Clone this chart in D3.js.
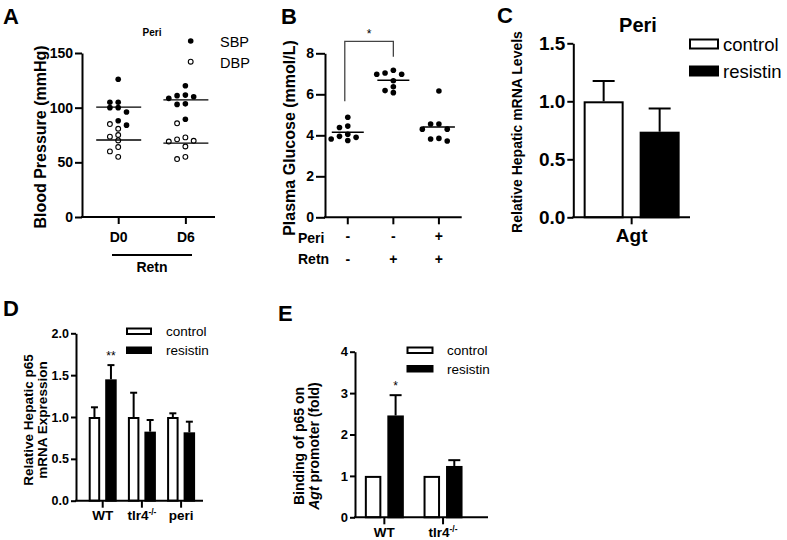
<!DOCTYPE html>
<html><head><meta charset="utf-8">
<script src="https://cdn.jsdelivr.net/npm/d3@7"></script>
<style>body{margin:0;background:#fff} svg{display:block} text{font-family:'Liberation Sans',Arial,sans-serif}</style>
</head><body><svg id="c" width="787" height="540"></svg>
<script>
// ---------- Panel A ----------
const aGroups = ["D0", "D6"];
const aSBP = [[126, 105, 105, 100, 100, 96, 88, 84], [120, 111.5, 111, 110, 108.5, 103.5, 103, 89.4]];
const aDBP = [[85, 80.7, 75, 73.5, 70, 64, 60, 55], [85.7, 72.8, 71, 69.7, 69, 64.5, 55, 53]];
const aTicks = [0, 50, 100, 150];
const aSeries = ["SBP", "DBP"];
// ---------- Panel B ----------
const bGroups = ["g1", "g2", "g3"];
const bPeri = ["-", "-", "+"];
const bRetn = ["-", "+", "+"];
const bValues = [[4.88, 4.45, 4.38, 4.05, 3.95, 3.9, 3.82, 3.75],
                 [7.17, 7.04, 6.98, 6.98, 6.66, 6.37, 6.18, 6.08],
                 [6.16, 4.55, 4.55, 4.3, 4.3, 3.85, 3.82, 3.72]];
const bTicks = [0, 2, 4, 6, 8];
// ---------- Panel C ----------
const cGroups = ["Agt"];
const cControl = [1.0], cControlErr = [0.175];
const cResistin = [0.738], cResistinErr = [0.2];
const cTicks = [0, 0.5, 1.0, 1.5];
// ---------- Panel D ----------
const dGroups = ["WT", "tlr4", "peri"];
const dControl = [1.0, 1.0, 1.0], dControlErr = [0.116, 0.29, 0.044];
const dResistin = [1.45, 0.825, 0.817], dResistinErr = [0.17, 0.139, 0.127];
const dTicks = [0, 0.5, 1.0, 1.5, 2.0];
// ---------- Panel E ----------
const eGroups = ["WT", "tlr4"];
const eControl = [1, 1], eControlErr = [0, 0];
const eResistin = [2.46, 1.24], eResistinErr = [0.49, 0.14];
const eTicks = [0, 1, 2, 3, 4];
const seriesNames = ["control", "resistin"];

const svg = d3.select("#c");

function txt(g, x, y, s, opt = {}) {
  return g.append("text").attr("x", x).attr("y", y).text(s)
    .attr("font-size", opt.size || 13).attr("font-weight", opt.bold ? "bold" : "normal")
    .attr("text-anchor", opt.anchor || "start").attr("fill", "#000");
}
function rotTxt(g, x, y, s, size) {
  return g.append("text").attr("transform", `translate(${x},${y}) rotate(-90)`)
    .attr("text-anchor", "middle").attr("font-size", size).attr("font-weight", "bold").text(s);
}
function yAxis(g, y, x, ticks, fmt, size, len) {
  const ax = g.append("g").attr("transform", `translate(${x},0)`)
    .call(d3.axisLeft(y).tickValues(ticks).tickFormat(fmt).tickSize(len).tickSizeOuter(0).tickPadding(2));
  ax.select(".domain").attr("stroke-width", 2).attr("stroke", "#000");
  ax.selectAll(".tick line").attr("stroke-width", 2).attr("stroke", "#000");
  ax.selectAll(".tick text").attr("font-size", size).attr("font-weight", "bold").attr("fill", "#000")
    .attr("font-family", "'Liberation Sans',Arial,sans-serif");
  return ax;
}
function xAxis(g, x, y0, x0, x1, len, labels, size, dy) {
  const ax = g.append("g").attr("transform", `translate(0,${y0})`)
    .call(d3.axisBottom(x).tickSize(len).tickSizeOuter(0).tickPadding(dy).tickFormat(labels ? (d => d) : ""));
  ax.select(".domain").remove();
  ax.selectAll(".tick line").attr("stroke-width", 2).attr("stroke", "#000");
  ax.selectAll(".tick text").attr("font-size", size).attr("font-weight", "bold").attr("fill", "#000")
    .attr("font-family", "'Liberation Sans',Arial,sans-serif");
  g.append("line").attr("x1", x0 - 1).attr("x2", x1).attr("y1", y0).attr("y2", y0)
    .attr("stroke", "#000").attr("stroke-width", 2);
  return ax;
}
function swarm(items, cx, y, spacing, thr) {
  const placed = [];
  items.slice().sort((a, b) => b.v - a.v).forEach(it => {
    const py = y(it.v);
    for (const k of [0, -1, 1, -2, 2, -3, 3]) {
      const px = cx + k * spacing;
      if (placed.every(p => Math.hypot(p.x - px, p.y - py) >= thr)) {
        placed.push({ ...it, x: px, y: py }); break;
      }
    }
  });
  return placed;
}
function drawDots(g, pts) {
  g.selectAll(null).data(pts).join("circle")
    .attr("cx", d => d.x).attr("cy", d => d.y)
    .attr("r", d => d.filled ? 2.8 : 2.4)
    .attr("fill", d => d.filled ? "#000" : "#fff")
    .attr("stroke", "#000").attr("stroke-width", d => d.filled ? 0 : 1.1);
}

// ================= Panel A =================
{
  const g = svg.append("g");
  txt(g, 3, 24, "A", { size: 22, bold: true });
  const y = d3.scaleLinear().domain([0, 150]).range([217, 53]);
  const x = d3.scalePoint().domain(aGroups).range([82, 215]).padding(0.49).align(0.55);
  yAxis(g, y, 82, aTicks, d3.format("d"), 14, 7);
  xAxis(g, x, 217, 82, 215, 7, true, 14, 8);
  rotTxt(g, 46, 137, "Blood Pressure (mmHg)", 16);
  aGroups.forEach((grp, i) => {
    const items = aSBP[i].map(v => ({ v, filled: true })).concat(aDBP[i].map(v => ({ v, filled: false })));
    const cx = x(grp);
    const pts = swarm(items, cx, y, 8.3, 5.2);
    drawDots(g, pts);
    [d3.mean(aSBP[i]), d3.mean(aDBP[i])].forEach(m => {
      g.append("line").attr("x1", cx - 22).attr("x2", cx + 23).attr("y1", y(m)).attr("y2", y(m))
        .attr("stroke", "#000").attr("stroke-width", 1.4);
    });
  });
  txt(g, 152, 36, "Peri", { size: 10, bold: true, anchor: "middle" });
  // legend
  aSeries.forEach((s, i) => {
    const ly = 41 + i * 20.7;
    g.append("circle").attr("cx", 190.7).attr("cy", ly).attr("r", i === 0 ? 2.8 : 2.4)
      .attr("fill", i === 0 ? "#000" : "#fff").attr("stroke", "#000").attr("stroke-width", i === 0 ? 0 : 1.1);
    txt(g, 220, ly + 6, s, { size: 14.5 });
  });
  g.append("line").attr("x1", 112).attr("x2", 192).attr("y1", 255).attr("y2", 255)
    .attr("stroke", "#000").attr("stroke-width", 2);
  txt(g, 152, 272, "Retn", { size: 14, bold: true, anchor: "middle" });
}

// ================= Panel B =================
{
  const g = svg.append("g");
  txt(g, 281, 24, "B", { size: 22, bold: true });
  const y = d3.scaleLinear().domain([0, 8]).range([217.3, 53.3]);
  const x = d3.scaleBand().domain(bGroups).range([325, 461.7]).padding(0);
  yAxis(g, y, 325, bTicks, d3.format("d"), 14, 9);
  xAxis(g, x, 217.3, 325, 461.7, 7, false, 14, 6);
  rotTxt(g, 295, 138, "Plasma Glucose (mmol/L)", 16);
  bGroups.forEach((grp, i) => {
    const cx = x(grp) + x.bandwidth() / 2;
    const pts = swarm(bValues[i].map(v => ({ v, filled: true })), cx, y, 8.3, 5.2);
    drawDots(g, pts);
    const m = d3.mean(bValues[i]);
    g.append("line").attr("x1", cx - 16).attr("x2", cx + 16).attr("y1", y(m)).attr("y2", y(m))
      .attr("stroke", "#000").attr("stroke-width", 1.4);
    txt(g, cx, 241, bPeri[i], { size: 14, bold: true, anchor: "middle" });
    txt(g, cx, 264, bRetn[i], { size: 14, bold: true, anchor: "middle" });
  });
  txt(g, 298, 243, "Peri", { size: 14, bold: true });
  txt(g, 298, 264, "Retn", { size: 14, bold: true });
  // significance bracket
  const c1 = x("g1") + x.bandwidth() / 2 - 3, c2 = x("g2") + x.bandwidth() / 2;
  g.append("path").attr("d", `M${c1},${y(d3.max(bValues[0])) - 16}V41.3H${c2}V56.7`)
    .attr("fill", "none").attr("stroke", "#444").attr("stroke-width", 1.3);
  txt(g, (c1 + c2) / 2, 38, "*", { size: 12, anchor: "middle" });
}

// ---------- generic bar panel ----------
function barPanel(g, cfg) {
  const y = d3.scaleLinear().domain([0, cfg.max]).range([cfg.y0, cfg.y1]);
  const x = d3.scaleBand().domain(cfg.groups).range([cfg.x0, cfg.x1])
    .paddingInner(0).paddingOuter(cfg.po).align(cfg.align);
  const series = [[cfg.ctrl, cfg.ctrlErr], [cfg.res, cfg.resErr]];
  cfg.groups.forEach((grp, i) => {
    const cx = x(grp) + x.bandwidth() / 2;
    series.forEach(([vals, errs], s) => {
      const bx = s === 0 ? cx - cfg.gap / 2 - cfg.barW : cx + cfg.gap / 2;
      const bc = bx + cfg.barW / 2;
      if (errs[i] > 0) {
        g.append("line").attr("x1", bc).attr("x2", bc).attr("y1", y(vals[i])).attr("y2", y(vals[i] + errs[i]))
          .attr("stroke", "#000").attr("stroke-width", 2);
        g.append("line").attr("x1", bc - cfg.cap / 2).attr("x2", bc + cfg.cap / 2)
          .attr("y1", y(vals[i] + errs[i])).attr("y2", y(vals[i] + errs[i]))
          .attr("stroke", "#000").attr("stroke-width", 2);
      }
      g.append("rect").attr("x", bx + 1).attr("width", cfg.barW - 2)
        .attr("y", y(vals[i]) + 1).attr("height", y(0) - y(vals[i]) - 1)
        .attr("fill", s === 0 ? "#fff" : "#000").attr("stroke", "#000").attr("stroke-width", 2);
    });
  });
  yAxis(g, y, cfg.x0, cfg.ticks, cfg.fmt, cfg.tickSize, cfg.tickLen);
  const ax = xAxis(g, x, cfg.y0, cfg.x0, cfg.x1, 7, true, cfg.xSize, cfg.xPad);
  // legend
  seriesNames.forEach((s, k) => {
    const ly = cfg.legY[k];
    g.append("rect").attr("x", cfg.legX + 1).attr("y", ly + 1).attr("width", cfg.legW - 2).attr("height", cfg.legH - 2)
      .attr("fill", k === 0 ? "#fff" : "#000").attr("stroke", "#000").attr("stroke-width", 2);
    txt(g, cfg.legTX, ly + cfg.legH / 2 + cfg.legSize * 0.36, s, { size: cfg.legSize });
  });
  return { x, y, ax };
}

// ================= Panel C =================
{
  const g = svg.append("g");
  txt(g, 497, 23, "C", { size: 22, bold: true });
  const r = barPanel(g, {
    groups: cGroups, ctrl: cControl, ctrlErr: cControlErr, res: cResistin, resErr: cResistinErr,
    max: 1.5, y0: 217.3, y1: 43.3, x0: 573.3, x1: 690, po: 0, align: 0.5, barW: 40, gap: 16, cap: 22,
    ticks: cTicks, fmt: d3.format(".1f"), tickSize: 19, tickLen: 6, xSize: 19, xPad: 4,
    legX: 689, legY: [38.5, 65.5], legW: 30, legH: 11, legTX: 723, legSize: 18.5
  });
  txt(g, 638, 32, "Peri", { size: 20, bold: true, anchor: "middle" });
  rotTxt(g, 522, 132, "Relative Hepatic mRNA Levels", 14);
}

// ================= Panel D =================
{
  const g = svg.append("g");
  txt(g, 3, 316, "D", { size: 22, bold: true });
  const r = barPanel(g, {
    groups: dGroups, ctrl: dControl, ctrlErr: dControlErr, res: dResistin, resErr: dResistinErr,
    max: 2.0, y0: 500.7, y1: 333.3, x0: 76, x1: 203, po: 0.12, align: 0.755, barW: 11.5, gap: 5, cap: 7,
    ticks: dTicks, fmt: d3.format(".1f"), tickSize: 12.5, tickLen: 5, xSize: 13.5, xPad: 3,
    legX: 126, legY: [327.5, 346.5], legW: 26, legH: 7.5, legTX: 166, legSize: 13.5
  });
  r.ax.selectAll(".tick text").filter(d => d === "tlr4").text("tlr4")
    .append("tspan").attr("dy", -5).attr("font-size", 8.5).text("-/-");
  const wt = r.x("WT") + r.x.bandwidth() / 2 + 2.5 + 11.5 / 2;
  txt(g, wt, r.y(dResistin[0] + dResistinErr[0]) - 5, "**", { size: 12, anchor: "middle" });
  rotTxt(g, 33, 420, "Relative Hepatic p65", 13.5);
  rotTxt(g, 47, 420, "mRNA Expression", 13.5);
}

// ================= Panel E =================
{
  const g = svg.append("g");
  txt(g, 278, 321, "E", { size: 22, bold: true });
  const r = barPanel(g, {
    groups: eGroups, ctrl: eControl, ctrlErr: eControlErr, res: eResistin, resErr: eResistinErr,
    max: 4, y0: 517.3, y1: 351.7, x0: 355, x1: 488, po: 0.133, align: 0, barW: 16.5, gap: 6, cap: 12,
    ticks: eTicks, fmt: d3.format("d"), tickSize: 13, tickLen: 5, xSize: 13.5, xPad: 3,
    legX: 406.5, legY: [346.5, 365], legW: 27, legH: 7.5, legTX: 447, legSize: 13.5
  });
  r.ax.selectAll(".tick text").filter(d => d === "tlr4").text("tlr4")
    .append("tspan").attr("dy", -5).attr("font-size", 8.5).text("-/-");
  const wt = r.x("WT") + r.x.bandwidth() / 2 + 3 + 16.5 / 2;
  txt(g, wt, r.y(eResistin[0] + eResistinErr[0]) - 5, "*", { size: 12, anchor: "middle" });
  rotTxt(g, 304, 446, "Binding of p65 on", 14);
  const t2 = rotTxt(g, 319, 446, "", 14);
  t2.append("tspan").attr("font-style", "italic").text("Agt");
  t2.append("tspan").text(" promoter (fold)");
}
</script></body></html>
